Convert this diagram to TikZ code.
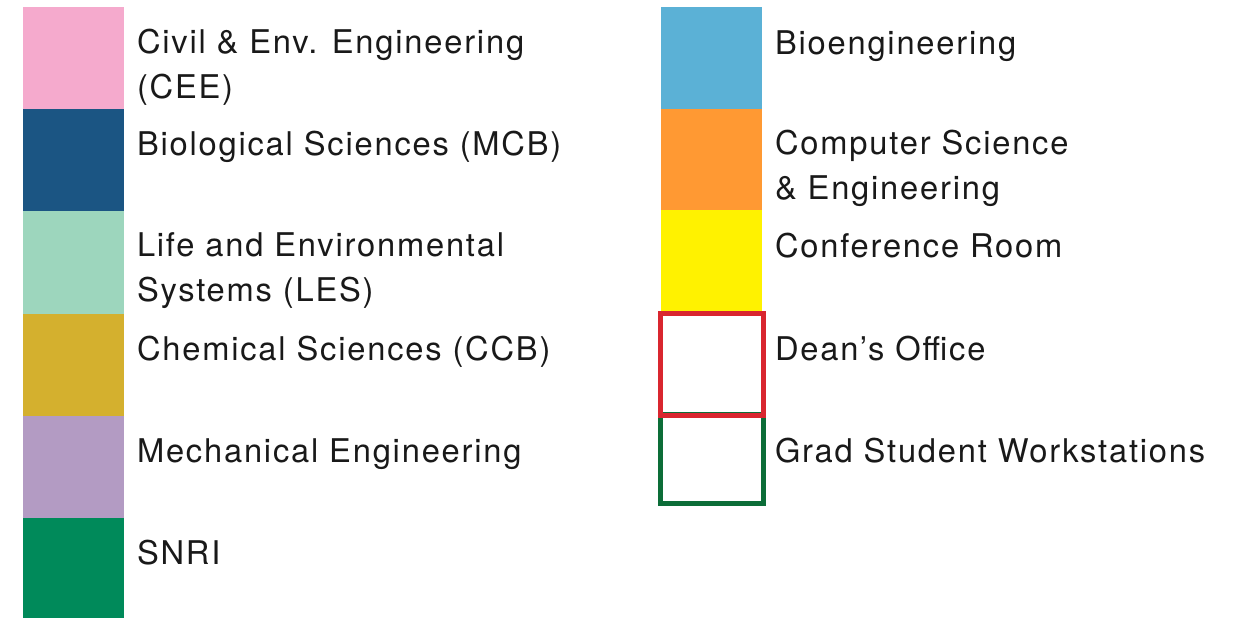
\documentclass[tikz,border=0pt]{standalone}
\usepackage{fontspec}
\setmainfont{TeX Gyre Heros}[LetterSpace=5.5]
\definecolor{cpink}{HTML}{F5AACD}
\definecolor{cblue}{HTML}{1B5583}
\definecolor{cmint}{HTML}{9DD6BD}
\definecolor{cgold}{HTML}{D4B02E}
\definecolor{clav}{HTML}{B39BC3}
\definecolor{cgreen}{HTML}{008A5A}
\definecolor{clblue}{HTML}{5BB1D6}
\definecolor{corange}{HTML}{FF9933}
\definecolor{cyellow}{HTML}{FFF200}
\definecolor{cred}{HTML}{D9262F}
\definecolor{cdgreen}{HTML}{0C6D38}
\begin{document}
\begin{tikzpicture}[x=0.75pt,y=-0.75pt,
  swatch/.style={draw=none,inner sep=0pt,outer sep=0pt,minimum width=75.75pt,minimum height=76.9pt},
  outline/.style={draw=#1,line width=3.9pt,inner sep=0pt,outer sep=0pt,minimum width=77.25pt},
  lbl/.style={anchor=base west,inner sep=0pt,outer sep=0pt,align=left,
    font=\fontsize{24.5}{33.5}\selectfont,text=black!90}]
\useasboundingbox (0,0) rectangle (1250,618);
% left column swatches
\node[swatch,fill=cpink]   (s1) at (73.5,58.5) {};
\node[swatch,fill=cblue]   (s2) at (73.5,160) {};
\node[swatch,fill=cmint]   (s3) at (73.5,262.5) {};
\node[swatch,fill=cgold]   (s4) at (73.5,365) {};
\node[swatch,fill=clav]    (s5) at (73.5,467) {};
\node[swatch,fill=cgreen,minimum height=75pt] (s6) at (73.5,568) {};
% right column swatches
\node[swatch,fill=clblue]  (r1) at (711.5,58.5) {};
\node[swatch,fill=corange] (r2) at (711.5,160) {};
\node[swatch,fill=cyellow,minimum height=76.1pt] (r3) at (711.5,261) {};
\node[outline=cdgreen,minimum height=66.4pt] (r5) at (712,459) {};
\node[outline=cred,minimum height=76.5pt]  (r4) at (712,364.5) {};
% labels (base anchor = last line)
\node[lbl] (l1) at (137,98.5) {Civil \& Env. Engineering\\(CEE)};
\node[lbl] (l2) at (137,155) {Biological Sciences (MCB)};
\node[lbl] (l3) at (137,301.5) {Life and Environmental\\Systems (LES)};
\node[lbl] (l4) at (137,360) {Chemical Sciences (CCB)};
\node[lbl] (l5) at (137,462) {Mechanical Engineering};
\node[lbl] (l6) at (137,564) {SNRI};
\node[lbl] (m1) at (775,54) {Bioengineering};
\node[lbl] (m2) at (775,199.5) {Computer Science\\\& Engineering};
\node[lbl] (m3) at (775,257) {Conference Room};
\node[lbl] (m4) at (775,360) {Dean’s Office};
\node[lbl] (m5) at (775,462) {Grad Student Workstations};
\end{tikzpicture}
\end{document}
